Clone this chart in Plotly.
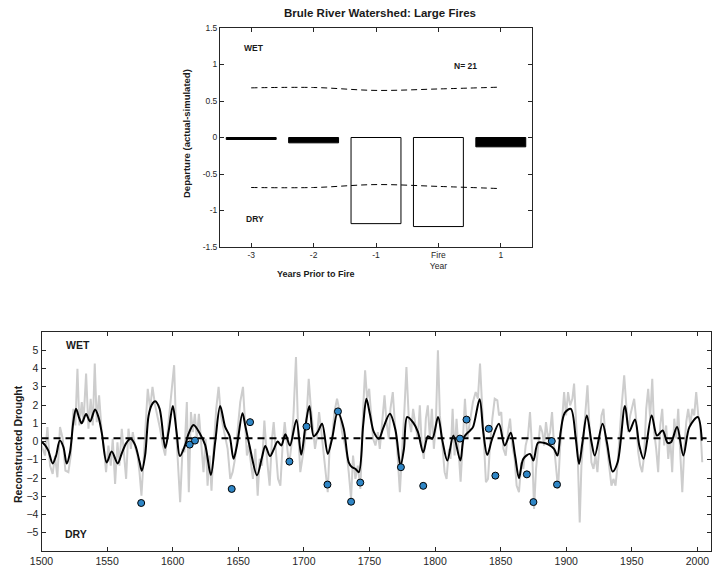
import plotly.graph_objects as go

W, H = 712, 570

# ---------------- Top chart data ----------------
lag_positions = [-3, -2, -1, 0, 1]
lag_labels = ["-3", "-2", "-1", "Fire<br>Year", "1"]
departure = [-0.027, -0.073, -1.18, -1.22, -0.128]
bar_filled = [True, True, False, False, True]
ci_upper = [0.68, 0.685, 0.645, 0.665, 0.69]
ci_lower = [-0.685, -0.685, -0.645, -0.67, -0.70]
top_yticks = [-1.5, -1, -0.5, 0, 0.5, 1, 1.5]
top_ytick_text = ["-1.5", "-1", "-0.5", "0", "0.5", "1", "1.5"]
n_fires = 21

# ---------------- Bottom chart data ----------------
grey_years = [
    1500.1, 1502.7, 1504.5, 1506.5, 1508.5, 1510.3, 1512.1, 1514.1, 1516.2, 1518.2,
    1520.5, 1522.3, 1524.3, 1525.8, 1527.4, 1528.9, 1530.7, 1532.0, 1534.0, 1535.8,
    1537.5, 1539.1, 1540.6, 1542.1, 1543.9, 1545.9, 1547.7, 1549.2, 1551.0, 1552.8,
    1554.3, 1556.1, 1557.9, 1559.4, 1561.2, 1563.0, 1564.5, 1566.3, 1568.1, 1569.6,
    1571.4, 1573.2, 1574.7, 1576.2, 1577.7, 1579.5, 1581.0, 1582.8, 1584.6, 1586.6,
    1588.4, 1590.4, 1592.5, 1594.3, 1596.1, 1598.1, 1599.6, 1601.1, 1602.7, 1604.5,
    1605.7, 1607.5, 1609.0, 1610.8, 1612.3, 1613.9, 1615.4, 1616.9, 1618.4, 1620.0,
    1621.8, 1623.5, 1625.1, 1626.6, 1628.1, 1629.6, 1631.2, 1633.2, 1635.0, 1636.8,
    1638.3, 1640.1, 1641.9, 1643.9, 1645.7, 1647.5, 1649.5, 1651.5, 1653.6, 1655.4,
    1656.6, 1657.9, 1659.7, 1661.2, 1663.0, 1664.8, 1666.3, 1668.1, 1669.9, 1671.9,
    1673.9, 1675.7, 1677.0, 1678.8, 1680.3, 1682.1, 1683.8, 1685.4, 1687.2, 1688.7,
    1690.5, 1692.2, 1694.0, 1695.6, 1697.3, 1698.9, 1700.4, 1701.9, 1703.7, 1705.2,
    1707.0, 1708.5, 1710.1, 1711.6, 1713.1, 1714.9, 1716.7, 1718.2, 1719.7, 1721.5,
    1723.3, 1725.3, 1727.4, 1729.1, 1730.9, 1732.5, 1734.2, 1736.0, 1737.5, 1739.3,
    1741.1, 1743.1, 1745.2, 1746.7, 1748.2, 1749.8, 1751.3, 1752.8, 1754.6, 1756.4,
    1757.9, 1759.7, 1761.5, 1763.0, 1764.8, 1766.0, 1767.8, 1769.3, 1771.1, 1773.2,
    1774.9, 1776.7, 1778.2, 1780.0, 1781.8, 1783.3, 1785.1, 1786.9, 1788.4, 1789.9,
    1791.5, 1793.0, 1794.5, 1796.1, 1797.6, 1799.1, 1800.6, 1802.2, 1803.7, 1805.5,
    1807.3, 1808.8, 1810.6, 1811.8, 1813.4, 1814.9, 1816.4, 1818.2, 1819.5, 1821.3,
    1822.8, 1824.6, 1827.1, 1828.9, 1831.0, 1832.7, 1834.3, 1835.8, 1837.3, 1838.8,
    1840.4, 1841.9, 1843.7, 1845.5, 1847.5, 1848.8, 1850.5, 1852.1, 1853.9, 1855.6,
    1857.2, 1858.9, 1860.7, 1862.2, 1864.0, 1865.8, 1867.3, 1869.1, 1870.9, 1872.4,
    1874.0, 1875.5, 1877.0, 1878.5, 1880.1, 1881.8, 1883.1, 1884.6, 1886.2, 1887.7,
    1889.2, 1890.7, 1892.3, 1893.8, 1895.3, 1897.1, 1898.4, 1899.9, 1901.4, 1903.0,
    1904.7, 1906.0, 1907.5, 1908.6, 1910.3, 1911.6, 1913.1, 1914.7, 1916.2, 1917.7,
    1919.2, 1920.8, 1922.3, 1923.8, 1925.4, 1926.9, 1928.4, 1929.9, 1931.5, 1933.0,
    1934.5, 1936.0, 1937.6, 1939.1, 1940.6, 1942.1, 1944.2, 1945.7, 1947.2, 1948.8,
    1950.3, 1951.8, 1953.3, 1954.9, 1956.4, 1957.9, 1959.4, 1961.0, 1962.5, 1964.0,
    1965.6, 1967.1, 1968.6, 1970.1, 1971.7, 1973.2, 1974.7, 1976.2, 1977.8, 1979.3,
    1980.8, 1982.4, 1983.9, 1985.4, 1986.9, 1988.5, 1990.0, 1991.5, 1993.0, 1994.6,
    1996.1, 1997.6, 1999.1, 2000.7, 2002.2, 2003.7,
]
grey_values = [
    -0.22, -0.77, 0.79, -1.32, -1.78, -0.77, -1.96, 0.79, 0.15, -1.59,
    -1.68, -0.77, 1.79, 0.88, 3.99, 0.88, 2.16, 1.06, 3.72, 0.70,
    2.34, 0.88, 4.27, 1.06, 2.53, 0.51, -0.40, -1.68, -0.22, -1.32,
    0.15, -2.33, -0.04, -1.32, 0.70, -0.77, -2.05, 0.70, -0.40, 0.51,
    -0.31, -0.77, -1.68, -2.97, -0.95, 1.61, 2.89, 1.79, 2.99, 1.98,
    1.43, 0.70, -0.22, -0.77, 0.51, 1.98, 3.08, 4.18, 0.51, -1.68,
    -3.33, -0.40, -0.59, 2.16, -2.78, 1.61, 0.51, 1.52, 0.15, 1.52,
    -0.40, -1.68, 0.15, -2.42, -0.77, -2.69, -0.40, 1.79, 2.99, 1.43,
    0.88, 0.15, -0.40, -2.05, -1.68, -0.95, 0.51, 2.16, 2.99, 0.88,
    -0.77, -0.22, -1.32, -2.05, -0.40, -2.97, -0.95, -1.32, 1.15, -0.95,
    -2.42, 0.15, 1.06, -0.59, -2.05, -2.42, -0.22, 1.06, -0.22, -1.32,
    -0.22, 1.61, 4.63, 0.70, -1.68, -0.95, -0.22, 1.06, 3.44, 1.98,
    0.51, -0.40, 0.33, 1.61, 0.70, -0.59, -1.87, -2.78, -0.22, 0.15,
    1.61, 2.34, 1.61, 0.51, -0.04, -0.59, -1.68, -3.15, -0.77, -2.05,
    -1.32, -2.60, 1.79, 3.90, 2.34, 2.89, 1.43, 0.15, -0.22, 0.51,
    -0.40, 0.88, 2.53, 1.06, 0.15, 1.79, 2.71, 1.06, -0.40, -2.78,
    -0.77, 1.79, 4.08, 1.25, 0.51, 1.79, 0.88, 0.15, 1.98, -0.22,
    -0.95, 1.25, 1.98, 0.15, 1.79, -0.40, 0.88, 5.00, 1.43, -0.22,
    -1.68, -2.05, -0.40, -0.95, 1.79, -0.77, 1.25, -0.77, -2.20, 0.15,
    2.34, 0.15, 1.43, 2.16, 2.71, 2.34, 4.27, 1.79, -0.22, -2.23,
    -2.05, -0.22, 1.25, 2.34, 2.25, 1.43, 1.61, -0.40, -0.77, 0.51,
    1.25, -0.22, -0.95, -2.42, -2.78, -1.14, -1.50, -0.22, 0.33, 1.61,
    -0.40, -3.70, -1.50, -0.22, 0.88, 0.51, -0.22, 1.06, 0.15, 0.51,
    1.61, -0.22, -1.68, -2.60, -0.40, 1.79, 2.71, 1.43, 2.71, 1.98,
    2.34, 3.17, 0.88, -0.40, -4.43, -1.32, 0.15, 1.61, 3.08, 0.88,
    -1.14, -1.50, -0.77, -1.68, 0.15, 1.43, 1.79, 0.15, -0.59, -1.68,
    -2.42, -2.05, -2.42, -1.32, 0.51, 1.79, 3.63, 1.79, 0.51, 1.43,
    1.98, 2.34, 1.25, -0.59, -1.32, -1.68, -0.77, 1.79, 2.89, 1.25,
    3.44, 0.51, -0.40, -1.68, 0.88, 1.79, -0.22, 0.88, -0.95, 0.15,
    -1.68, 1.25, 0.15, 1.79, -0.59, -2.78, -0.40, 1.06, 1.79, 0.88,
    1.79, 1.43, 2.71, 1.43, 0.88, -1.14,
]

smooth_years = [
    1500, 1502.7, 1505.2, 1508.5, 1511, 1514, 1516.7, 1519.2, 1521.7, 1524.3,
    1526.3, 1528.9, 1530.7, 1534, 1537, 1540.8, 1543.4, 1545.9, 1549.7, 1553.5,
    1558.1, 1561.2, 1564.5, 1568, 1571.4, 1574.7, 1576.5, 1579, 1581.6, 1584,
    1586.7, 1590, 1594.3, 1597, 1600.1, 1603, 1605.5, 1609.5, 1612, 1615.9,
    1621, 1624.8, 1629.1, 1632.4, 1636.2, 1640, 1643.4, 1646.4, 1649, 1653.2,
    1655.3, 1658.5, 1664.3, 1668.1, 1670.6, 1674.2, 1677, 1680, 1682.8, 1685.9,
    1689.4, 1694.3, 1698, 1701.2, 1704.2, 1707.5, 1710.5, 1713.9, 1718.2, 1721.5,
    1725.8, 1730.4, 1734.2, 1736.8, 1739.3, 1741.9, 1745.2, 1747.7, 1750.3, 1753.4,
    1757.2, 1760.5, 1765.6, 1769.9, 1773.7, 1776.3, 1778.8, 1783.4, 1787, 1791,
    1794.6, 1797.9, 1802.3, 1805.6, 1809.4, 1814, 1819.3, 1822.1, 1826.7, 1829,
    1834, 1836.8, 1839.8, 1843.6, 1848.7, 1853.1, 1857.7, 1861, 1864, 1867.3,
    1872.4, 1875, 1878.5, 1882.6, 1886.9, 1890.7, 1893.3, 1895.8, 1898.9, 1903.5,
    1907.3, 1909.8, 1912.4, 1915.7, 1919.3, 1921.8, 1927.7, 1931, 1935.4, 1939.2,
    1944.8, 1948.1, 1952.4, 1955.7, 1959, 1965.1, 1969.2, 1973.5, 1977.3, 1979.9,
    1984.5, 1989.3, 1993.9, 2000.3, 2003.4,
]
smooth_values = [
    0.0, -0.2, -0.5, -1.2, -0.8, 0.05, -0.3, -1.2, -0.6, 1.1,
    1.8, 1.25, 1.0, 1.5, 1.1, 1.75, 1.35, 0.5, -1.15, -0.55,
    -1.2, -0.65, -0.1, 0.15, -0.2, -1.1, -1.6, -0.75, 1.4, 2.0,
    2.2, 1.8, -0.35, 0.6, 1.94, 0.5, -0.8, -0.2, 0.4, 0.9,
    0.4, -0.2, -1.83, -0.04, 1.94, 0.8, 0.3, -0.95, -0.22, 1.55,
    0.88, -0.2, -1.85, -0.86, -0.24, -0.8, -0.44, 0.0, -0.22, 0.4,
    -0.22, 1.18, -0.72, 0.85, 1.94, 0.29, 0.51, 0.97, -0.68, 0.15,
    1.61, 0.7, -1.14, -1.41, -1.5, -1.68, 0.88, 2.34, 1.52, 0.51,
    0.15, 0.73, 1.52, 0.6, -1.32, -0.4, 1.34, 1.03, 0.51, -0.59,
    0.29, 0.15, 1.34, 0.05, -1.04, 0.33, -1.04, 0.24, 0.6, 0.8,
    2.31, 0.51, -0.73, 0.15, 0.97, -0.22, 0.48, -0.77, -2.01, -0.95,
    -0.68, -1.04, -0.07, -0.07, -0.18, -0.4, -0.77, 0.55, 1.57, 1.79,
    0.15, -1.23, -0.04, 1.43, -0.04, -0.77, 0.97, -0.04, -1.65, -1.14,
    1.94, 0.55, 1.21, -0.22, -0.95, 1.43, 0.33, 0.6, -0.07, -0.04,
    0.79, -0.77, 0.79, 1.34, 0.05,
]

fire_years = [1576, 1613, 1617, 1645, 1659, 1689, 1702, 1718, 1726, 1736, 1743,
              1774, 1791, 1819, 1824, 1841, 1846, 1870, 1875, 1889, 1893]
fire_values = [-3.37, -0.17, 0.05, -2.6, 1.06, -1.1, 0.82, -2.36, 1.65, -3.3, -2.25,
               -1.41, -2.43, 0.16, 1.2, 0.7, -1.87, -1.8, -3.32, 0.02, -2.36]

mean_level = 0.18
mean_span = [1500, 2007]
bottom_yticks = [-5, -4, -3, -2, -1, 0, 1, 2, 3, 4, 5]
bottom_xticks = [1500, 1550, 1600, 1650, 1700, 1750, 1800, 1850, 1900, 1950, 2000]

# ---------------- Figure ----------------
FONT = "Liberation Sans, Arial, Helvetica, sans-serif"
AX = "#262626"

fig = go.Figure()

# top bars
fig.add_trace(go.Bar(
    x=lag_positions, y=departure, width=0.8,
    marker=dict(color=["black" if f else "white" for f in bar_filled],
                line=dict(color="black", width=1)),
    xaxis="x", yaxis="y", showlegend=False, hoverinfo="skip"))
for ci in (ci_upper, ci_lower):
    fig.add_trace(go.Scatter(
        x=lag_positions, y=ci, mode="lines",
        line=dict(color="black", width=1, dash="6px,4px", shape="spline"),
        xaxis="x", yaxis="y", showlegend=False, hoverinfo="skip"))

# bottom series
fig.add_trace(go.Scatter(
    x=grey_years, y=grey_values, mode="lines",
    line=dict(color="#cdcdcd", width=2),
    xaxis="x2", yaxis="y2", showlegend=False, hoverinfo="skip"))
fig.add_trace(go.Scatter(
    x=mean_span, y=[mean_level, mean_level], mode="lines",
    line=dict(color="black", width=2, dash="7px,5px"),
    xaxis="x2", yaxis="y2", showlegend=False, hoverinfo="skip"))
fig.add_trace(go.Scatter(
    x=smooth_years, y=smooth_values, mode="lines",
    line=dict(color="black", width=2, shape="spline", smoothing=0.9),
    xaxis="x2", yaxis="y2", showlegend=False, hoverinfo="skip"))
fig.add_trace(go.Scatter(
    x=fire_years, y=fire_values, mode="markers",
    marker=dict(color="#2f86c6", size=7, line=dict(color="black", width=1)),
    xaxis="x2", yaxis="y2", showlegend=False, hoverinfo="skip"))

def px_x(p):
    return p / W

def px_y(p):
    return 1 - p / H

axis_common = dict(showline=True, linecolor=AX, linewidth=1, mirror="ticks",
                   ticks="inside", ticklen=4, tickcolor=AX, showgrid=False,
                   zeroline=False, automargin=False,
                   tickfont=dict(family=FONT, color=AX))

fig.update_layout(
    width=W, height=H, margin=dict(l=0, r=0, t=0, b=0),
    paper_bgcolor="white", plot_bgcolor="white", bargap=0,
    xaxis=dict(axis_common, domain=[px_x(220), px_x(532)], range=[-3.5, 1.5],
               tickvals=lag_positions, ticktext=lag_labels, anchor="y",
               tickfont=dict(family=FONT, color=AX, size=8.5)),
    yaxis=dict(axis_common, domain=[px_y(247), px_y(28)], range=[-1.5, 1.5],
               tickvals=top_yticks, ticktext=top_ytick_text, anchor="x",
               tickfont=dict(family=FONT, color=AX, size=8.5)),
    xaxis2=dict(axis_common, domain=[px_x(41.5), px_x(710.5)], range=[1500, 2010],
                tickvals=bottom_xticks, anchor="y2",
                tickfont=dict(family=FONT, color=AX, size=10.5)),
    yaxis2=dict(axis_common, domain=[px_y(551), px_y(332)], range=[-6, 6],
                tickvals=bottom_yticks, anchor="x2",
                tickfont=dict(family=FONT, color=AX, size=10.5)),
)

def ann(text, x, y, size, bold=True, angle=0, xref="paper", yref="paper"):
    fig.add_annotation(text=f"<b>{text}</b>" if bold else text, x=x, y=y,
                       xref=xref, yref=yref, showarrow=False, textangle=angle,
                       font=dict(family=FONT, size=size, color="#1a1a1a"),
                       xanchor="center", yanchor="middle")

ann("Brule River Watershed: Large Fires", px_x(380), px_y(13), 11.5)
ann("Departure (actual-simulated)", px_x(186), px_y(134), 9.5, angle=-90)
ann("Years Prior to Fire", px_x(316), px_y(274), 9)
ann("WET", -2.95, 1.23, 8.5, xref="x", yref="y")
ann("DRY", -2.94, -1.11, 8.5, xref="x", yref="y")
ann(f"N= {n_fires}", 0.43, 0.98, 8.5, xref="x", yref="y")

ann("Reconstructed Drought", px_x(18), px_y(444), 10.5, angle=-90)
ann("WET", 1528, 5.3, 10.5, xref="x2", yref="y2")
ann("DRY", 1526.5, -5.07, 10.5, xref="x2", yref="y2")

fig.write_html(
    "out.html",
    config={"displayModeBar": False, "staticPlot": True},
    post_script="document.body.style.margin='0';document.body.style.overflow='hidden';",
)
